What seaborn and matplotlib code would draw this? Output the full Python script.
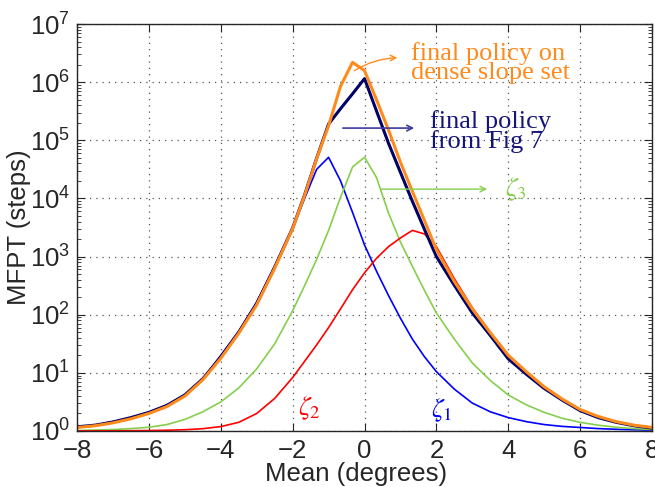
import numpy as np
import pandas as pd
import matplotlib
matplotlib.use("Agg")
import matplotlib.pyplot as plt
import seaborn as sns
from matplotlib.ticker import LogLocator, FixedLocator

# ---- data ----
mean_deg = [-8, -7.5, -7, -6.5, -6, -5.5, -5, -4.5, -4, -3.5, -3, -2.5, -2,
            -1.667, -1.333, -1, -0.667, -0.333, 0, 0.333, 0.667, 1, 1.333, 1.667,
            2, 2.5, 3, 3.5, 4, 4.5, 5, 5.5, 6, 6.5, 7, 7.5, 8]

zeta1 = [1.17, 1.26, 1.45, 1.70, 2.09, 2.82, 4.17, 7.9, 20, 52, 166, 676, 3020,
         1.0e4, 3.16e4, 5.1e4, 2.0e4, 5750, 1585, 562, 214, 87, 38, 19,
         10.5, 5.25, 3.02, 2.14, 1.70, 1.45, 1.29, 1.20, 1.15, 1.10, 1.07, 1.05, 1.035]

zeta2 = [1.002, 1.005, 1.007, 1.012, 1.019, 1.03, 1.052, 1.096, 1.19, 1.41, 2.0, 3.63, 8.3,
         15.8, 30.2, 60, 126, 269, 525, 933, 1480, 2090, 2820, 2450,
         1480, 417, 132, 50, 20.4, 10.5, 5.75, 3.55, 2.34, 1.78, 1.45, 1.26, 1.15]

zeta3 = [1.02, 1.04, 1.06, 1.10, 1.16, 1.29, 1.58, 2.14, 3.16, 5.5, 11.7, 31.5, 117,
         316, 891, 2820, 1.05e4, 3.47e4, 5.1e4, 2.3e4, 5620, 1780, 676, 263,
         107, 38, 14.8, 7.4, 4.17, 2.82, 2.09, 1.66, 1.41, 1.26, 1.16, 1.10, 1.06]

fig7_policy = [1.18, 1.26, 1.43, 1.70, 2.09, 2.75, 4.17, 7.9, 18.6, 50, 155, 660, 3100,
               1.15e4, 4.9e4, 1.9e5, 3.5e5, 6.3e5, 1.15e6, 3.2e5, 8.9e4, 2.8e4, 8.9e3, 2.95e3,
               1.0e3, 320, 107, 44, 17.4, 9.5, 5.4, 3.4, 2.24, 1.70, 1.41, 1.23, 1.12]

dense_policy = [1.15, 1.23, 1.38, 1.62, 2.0, 2.63, 3.98, 7.6, 17.8, 47.9, 148, 630, 3020,
                1.12e4, 4.8e4, 1.78e5, 8.5e5, 2.19e6, 1.58e6, 5.0e5, 1.51e5, 4.2e4, 1.32e4, 4.2e3,
                1318, 372, 126, 49, 20, 10.5, 5.75, 3.55, 2.34, 1.78, 1.45, 1.26, 1.15]

x_ticks = [-8, -6, -4, -2, 0, 2, 4, 6, 8]

series = [
    ("zeta1", zeta1, "#0000ff", 1.2),
    ("zeta3", zeta3, "#86cf4c", 1.2),
    ("zeta2", zeta2, "#ff0000", 1.2),
    ("fig7", fig7_policy, "#000066", 2.2),
    ("dense", dense_policy, "#ff8a1c", 2.2),
]

df = pd.DataFrame({"Mean": mean_deg * len(series),
                   "MFPT": sum([s[1] for s in series], []),
                   "series": sum([[s[0]] * len(mean_deg) for s in series], [])})

sns.set_style("ticks")
plt.rcParams['font.family'] = ['Liberation Sans', 'DejaVu Sans']
plt.rcParams['mathtext.fontset'] = 'stix'

fig = plt.figure(figsize=(6.55, 4.87), dpi=100)
ax = fig.add_axes([0.1176, 0.115, 0.8778, 0.8357])

for name, vals, color, lw in series:
    sub = df[df["series"] == name]
    sns.lineplot(data=sub, x="Mean", y="MFPT", ax=ax, color=color, linewidth=lw,
                 estimator=None, sort=False, legend=False)

ax.set_yscale("log")
ax.set_xlim(-8, 8)
ax.set_ylim(1, 1e7)
ax.xaxis.set_major_locator(FixedLocator(x_ticks))
ax.yaxis.set_major_locator(LogLocator(base=10, numticks=10))
ax.yaxis.set_minor_locator(LogLocator(base=10, subs=np.arange(2, 10), numticks=20))

ax.grid(True, which="major", linestyle=(0, (1, 4)), color="#555555", linewidth=0.9)
ax.tick_params(which="both", direction="in", top=True, right=True, labelsize=18.5)
ax.tick_params(axis="x", which="major", pad=6)
ax.tick_params(axis="y", which="major", pad=5)
ax.tick_params(which="major", length=6)
ax.tick_params(which="minor", length=3)
for sp in ax.spines.values():
    sp.set_linewidth(1.0)
    sp.set_visible(True)

ax.set_xlabel("Mean (degrees)", fontsize=18.5, va="top")
ax.xaxis.set_label_coords(0.485, -0.075)
ax.set_ylabel("MFPT (steps)", fontsize=18.5)
ax.yaxis.set_label_coords(-0.08, 0.5)

serif = ['Liberation Serif', 'DejaVu Serif']
# annotations
ax.annotate("", xy=(0.99, 10**6.42), xytext=(-0.35, 10**6.17),
            arrowprops=dict(arrowstyle="->", color="#ff8a1c", lw=1.0,
                            connectionstyle="arc3,rad=-0.15"))
ax.text(1.3, 10**6.33, "final policy on\ndense slope set", color="#ff8a1c",
        fontsize=19, family=serif, ha="left", va="center", linespacing=0.8)

ax.annotate("", xy=(1.46, 10**5.21), xytext=(-0.68, 10**5.21),
            arrowprops=dict(arrowstyle="->", color="#3c3ca0", lw=1.2))
ax.text(1.83, 10**5.15, "final policy\nfrom Fig 7", color="#14147a",
        fontsize=19, family=serif, ha="left", va="center", linespacing=0.8)

ax.annotate("", xy=(3.49, 10**4.16), xytext=(0.38, 10**4.16),
            arrowprops=dict(arrowstyle="->", color="#86cf4c", lw=1.0))
ax.text(3.9, 10**4.15, r"$\zeta_3$", color="#86cf4c", fontsize=19,
        ha="left", va="center")

ax.text(-1.85, 10**0.4, r"$\zeta_2$", color="#ff0000", fontsize=19,
        ha="left", va="center")
ax.text(1.85, 10**0.36, r"$\zeta_1$", color="#0000ff", fontsize=19,
        ha="left", va="center")

fig.savefig("out.png", dpi=100)
